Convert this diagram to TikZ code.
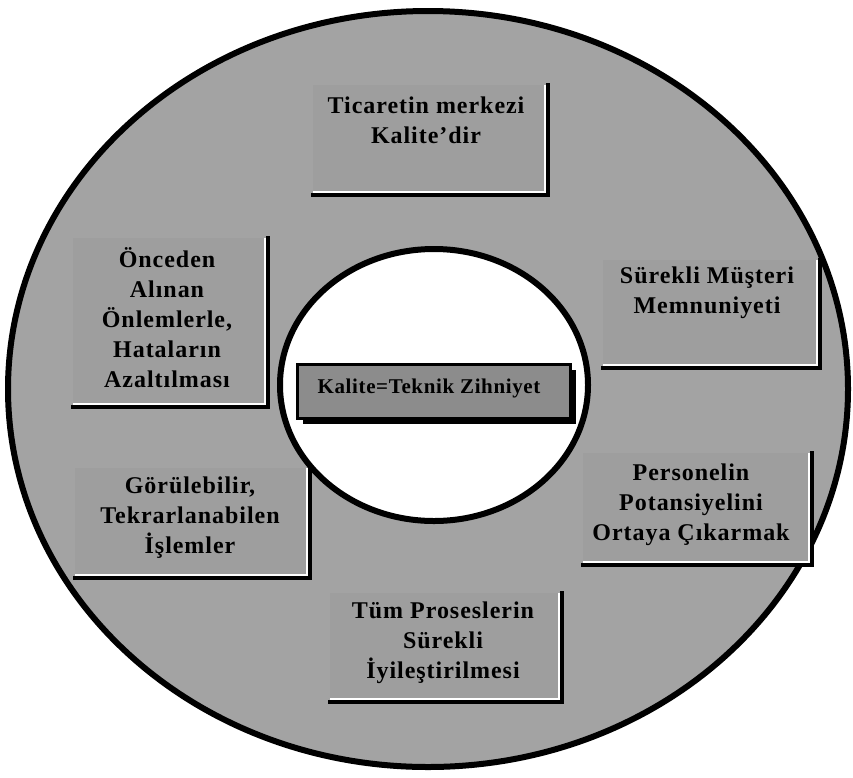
\documentclass[tikz,border=0pt]{standalone}
\usepackage{fontspec}
\setmainfont{Liberation Serif}
\newfontfamily\lblfont[LetterSpace=4]{Liberation Serif}
\newfontfamily\ctrfont[LetterSpace=3]{Liberation Serif}
\usetikzlibrary{shadows}
\definecolor{ringgray}{gray}{0.64}
\definecolor{boxgray}{gray}{0.62}
\definecolor{centergray}{gray}{0.55}
\begin{document}
\begin{tikzpicture}[x=1pt,y=-1pt,
  box/.style={fill=boxgray, inner sep=0pt, outer sep=0pt, anchor=north west},
  lbl/.style={align=center, font=\lblfont\fontsize{24}{30}\selectfont\bfseries, text=black, inner sep=0pt},
  edge/.style={line width=4pt, line join=miter, line cap=rect},
  gap/.style={white, line width=1.2pt}
]
\useasboundingbox (0,0) rectangle (853,777);
% outer ring
\draw[fill=ringgray, line width=6pt] (428,389) ellipse [x radius=420, y radius=378];
% boxes
\node[box, minimum width=235, minimum height=110] (b1) at (313,85) {};
\node[box, minimum width=195, minimum height=169] (b2) at (73,238) {};
\node[box, minimum width=217, minimum height=108] (b3) at (603,260) {};
\node[box, minimum width=235, minimum height=110] (b5) at (75,468) {};
\node[box, minimum width=229, minimum height=112] (b6) at (583,453) {};
\node[box, minimum width=232, minimum height=109] (b7) at (330,593) {};
\foreach \b in {b1,b2,b3,b5,b6,b7}{
  \draw[gap] ([xshift=-3pt]\b.north east) -- ([xshift=-3pt,yshift=3pt]\b.south east) -- ([yshift=3pt]\b.south west);
  \draw[edge] (\b.north east) -- (\b.south east) -- (\b.south west);
}
% inner hole
\draw[fill=white, line width=6pt] (434,385) ellipse [x radius=154, y radius=136];
% centre box
\node[draw, line width=2.5pt, fill=centergray, minimum width=273, minimum height=54, anchor=north west,
      drop shadow={shadow xshift=6pt, shadow yshift=-6pt, fill=black, opacity=1}] (c) at (296,363) {};
\node[font=\ctrfont\fontsize{21}{24}\selectfont\bfseries, inner sep=0pt] (ct) at (429,388) {Kalite=Teknik Zihniyet};
% labels
\node[lbl] (t1) at (426,120) {Ticaretin merkezi\\Kalite’dir};
\node[lbl] (t2) at (167,318) {Önceden\\Alınan\\Önlemlerle,\\Hataların\\Azaltılması};
\node[lbl] (t3) at (707,293) {Sürekli Müşteri\\Memnuniyeti};
\node[lbl] (t5) at (190,518) {Görülebilir,\\Tekrarlanabilen\\İşlemler};
\node[lbl] (t6) at (691,505) {Personelin\\Potansiyelini\\Ortaya Çıkarmak};
\node[lbl] (t7) at (443,643) {Tüm Proseslerin\\Sürekli\\İyileştirilmesi};
\end{tikzpicture}
\end{document}
